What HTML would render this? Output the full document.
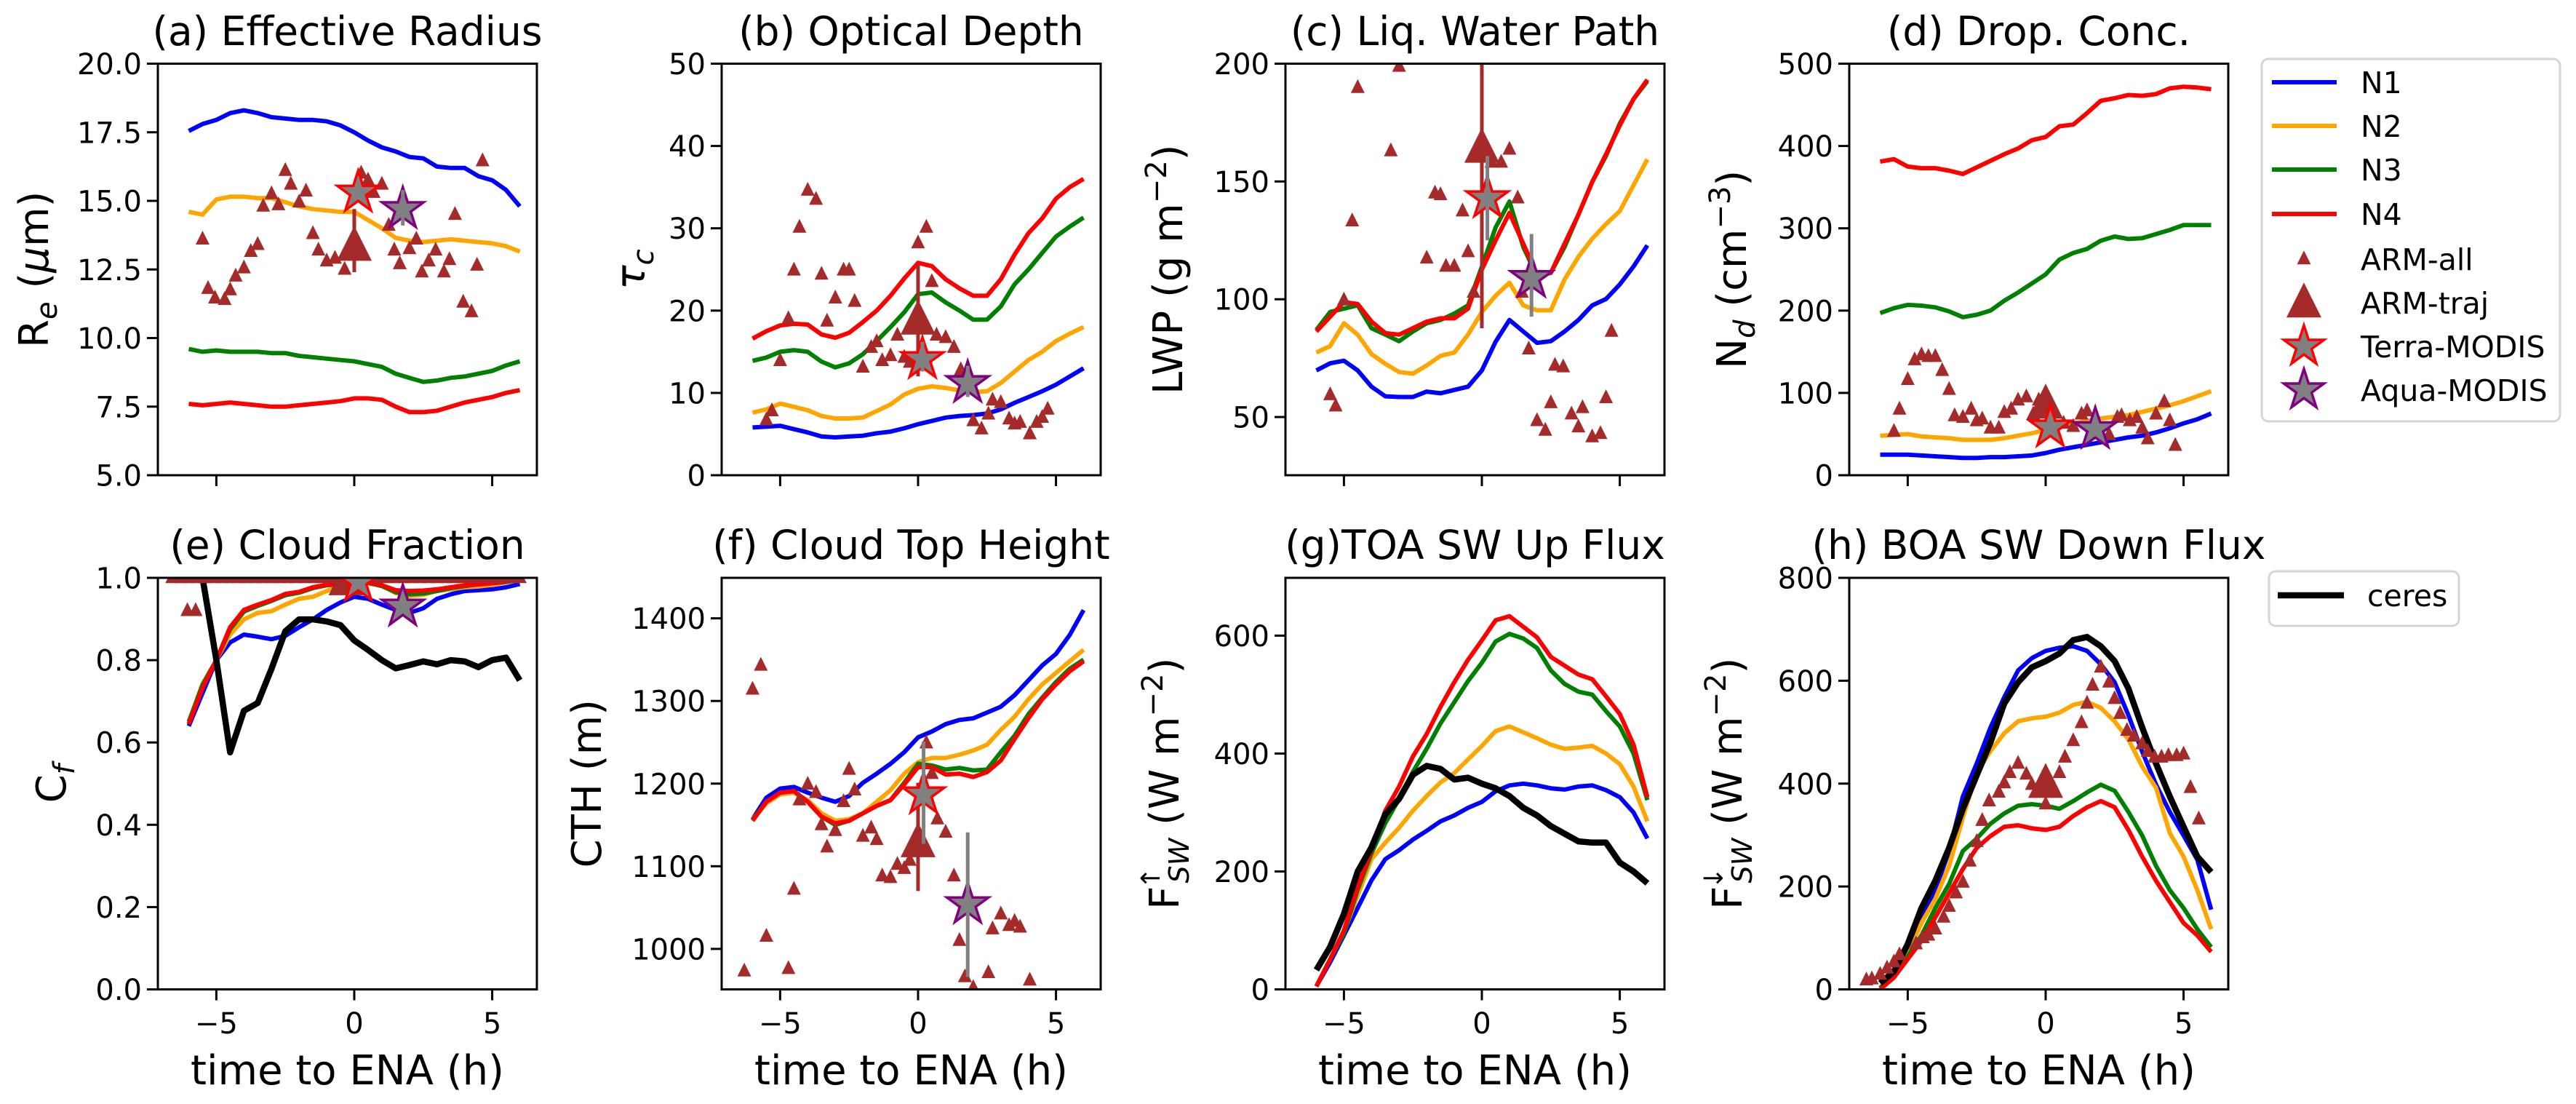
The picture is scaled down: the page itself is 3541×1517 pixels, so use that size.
<!DOCTYPE html>
<html><head><meta charset="utf-8"><title>Model vs observation time series</title>
<style>
html,body{margin:0;padding:0;background:#fff;}
svg{display:block;font-family:"DejaVu Sans","Liberation Sans",sans-serif;}
</style></head>
<body>
<svg id="fig" xmlns="http://www.w3.org/2000/svg" width="3541" height="1517" viewBox="0 0 3541 1517">
<rect x="0" y="0" width="3541" height="1517" fill="#fff"/>
</svg>
<script>
// ---------- shared time axis (h) ----------
const hours = [-6,-5.5,-5,-4.5,-4,-3.5,-3,-2.5,-2,-1.5,-1,-0.5,0,0.5,1,1.5,2,2.5,3,3.5,4,4.5,5,5.5,6];
const xTicks = [-5,0,5];
const xTickLabels = ['\u22125','0','5'];

// ---------- (a) effective radius ----------
const reN1 = [17.55,17.8,17.95,18.2,18.3,18.2,18.05,18.0,17.95,17.95,17.9,17.75,17.5,17.2,16.95,16.8,16.6,16.55,16.25,16.2,16.2,15.9,15.75,15.4,14.8];
const reN2 = [14.6,14.5,15.05,15.15,15.15,15.1,15.1,14.95,14.8,14.7,14.65,14.6,14.6,14.3,14.0,13.65,13.55,13.5,13.55,13.6,13.55,13.5,13.45,13.35,13.15];
const reN3 = [9.6,9.5,9.55,9.5,9.5,9.5,9.45,9.45,9.35,9.3,9.25,9.2,9.15,9.05,8.95,8.7,8.55,8.4,8.45,8.55,8.6,8.7,8.8,9.0,9.15];
const reN4 = [7.6,7.55,7.6,7.65,7.6,7.55,7.5,7.5,7.55,7.6,7.65,7.7,7.8,7.8,7.75,7.5,7.3,7.3,7.35,7.5,7.65,7.75,7.85,8.0,8.1];
const reArmT = [-5.5,-5.3,-5.05,-4.7,-4.5,-4.3,-4.0,-3.75,-3.5,-3.3,-3.0,-2.75,-2.5,-2.3,-2.0,-1.75,-1.5,-1.3,-1.0,-0.7,-0.35,0.25,0.5,0.7,1.0,1.25,1.45,1.65,2.0,2.25,2.45,2.7,2.95,3.25,3.45,3.65,3.95,4.25,4.45,4.65];
const reArmV = [13.6,11.8,11.45,11.4,11.75,12.25,12.55,13.15,13.4,14.8,15.25,14.85,16.1,15.6,14.95,15.35,13.8,13.2,12.8,12.9,12.5,16.0,15.75,15.3,15.6,14.1,13.2,12.7,13.25,13.6,12.4,12.8,13.2,12.4,12.85,14.5,11.3,10.95,12.65,16.45];
const reTraj = [0, 13.3, 12.4, 14.7];
const reTerra = [0.14, 15.3, 15.1, 15.5];
const reAqua = [1.76, 14.7, 14.1, 15.4];
const reTicks = [5,7.5,10,12.5,15,17.5,20];
const reTickLabels = ['5.0','7.5','10.0','12.5','15.0','17.5','20.0'];

// ---------- (b) optical depth ----------
const tauN1 = [5.8,5.9,6.0,5.6,5.2,4.7,4.6,4.7,4.8,5.1,5.3,5.7,6.2,6.6,7.0,7.2,7.3,7.5,8.0,8.8,9.5,10.2,11.0,12.0,13.0];
const tauN2 = [7.6,8.0,8.7,8.3,7.9,7.2,6.9,6.9,7.0,7.8,8.6,9.8,10.5,10.8,10.6,10.3,10.1,10.2,11.2,12.6,14.0,15.0,16.3,17.2,18.0];
const tauN3 = [13.9,14.3,15.0,15.2,15.0,13.8,13.1,13.6,14.7,16.3,18.0,19.8,22.0,22.2,21.0,20.0,18.9,18.9,20.5,23.2,25.0,27.0,29.0,30.2,31.3];
const tauN4 = [16.6,17.5,18.2,18.4,18.3,17.1,16.7,17.3,18.6,20.0,21.8,23.9,25.8,25.4,23.8,22.7,21.8,21.8,23.8,26.8,29.4,31.2,33.6,35.0,36.0];
const tauArmT = [-5.5,-5.3,-5.0,-4.7,-4.5,-4.3,-4.0,-3.7,-3.5,-3.3,-3.0,-2.7,-2.5,-2.3,-2.0,-1.7,-1.5,-1.3,-1.0,-0.75,-0.5,-0.3,0,0.3,0.5,0.67,1.0,1.3,1.55,2.0,2.3,2.55,2.7,3.0,3.3,3.5,3.7,4.05,4.3,4.5,4.7];
const tauArmV = [6.7,7.8,13.9,19.0,24.9,30.1,34.6,33.5,24.4,18.7,21.5,24.9,24.9,21.1,13.1,15.5,16.2,13.9,14.5,17.0,14.3,13.7,28.2,30.1,23.5,17.0,16.7,15.5,12.8,6.6,5.6,7.4,9.1,8.8,6.8,6.2,6.4,5.0,6.4,7.0,8.0];
const tauTraj = [0, 18.7, 12.0, 25.6];
const tauTerra = [0.16, 14.1, 12.6, 16.2];
const tauAqua = [1.8, 11.2, 9.5, 13.3];
const tauTicks = [0,10,20,30,40,50];
const tauTickLabels = ['0','10','20','30','40','50'];

// ---------- (c) liquid water path ----------
const lwpN1 = [69.8,72.8,73.9,69.8,62.9,58.8,58.5,58.5,60.8,60.1,61.5,62.9,69.8,82.0,91.2,86.3,81.5,82.2,86.3,91.2,97.4,100.1,106.3,113.9,122.9];
const lwpN2 = [77.4,80.1,89.8,85.0,76.7,72.6,69.1,68.4,71.9,76.0,77.4,85.0,94.6,101.5,107.0,97.4,95.3,95.3,108.4,118.0,125.7,131.9,137.4,148.4,159.4];
const lwpN3 = [87.0,94.6,96.0,97.4,87.7,85.0,82.2,86.3,89.8,91.2,93.9,97.4,113.9,130.5,141.5,122.2,109.8,111.2,122.2,135.9,149.8,160.8,174.6,185.0,192.6];
const lwpN4 = [86.3,92.6,98.8,98.0,90.5,85.6,85.0,87.7,90.5,91.9,91.9,96.0,112.6,125.0,136.7,123.6,110.5,111.2,123.6,135.9,149.8,161.5,173.8,185.0,193.2];
const lwpArmT = [-5.5,-5.3,-5.0,-4.7,-4.5,-3.3,-3.0,-2.0,-1.7,-1.5,-1.3,-1.0,-0.7,-0.5,-0.3,0.35,0.7,1.0,1.3,1.45,1.7,2.65,2.95,2.0,2.3,2.5,3.25,3.5,3.65,4.0,4.3,4.5,4.7];
const lwpArmV = [59.4,54.6,99.6,133.2,189.8,162.9,198.8,117.4,145.0,144.3,113.9,113.9,137.4,120.1,102.9,158.1,158.1,163.6,142.9,102.9,78.8,71.9,71.2,48.4,44.3,56.0,51.2,45.7,53.9,41.5,42.9,58.1,86.3];
const lwpTraj = [0, 163.6, 87.7, 215];
const lwpTerra = [0.2, 142.9, 125.0, 160.8];
const lwpAqua = [1.8, 109.0, 92.6, 127.7];
const lwpTicks = [50,100,150,200];
const lwpTickLabels = ['50','100','150','200'];

// ---------- (d) droplet concentration ----------
const ndN1 = [25,25,25,24,23,22,21,21,22,22,23,24,27,31,34,37,40,43,46,48,52,57,63,68,75];
const ndN2 = [48,49,50,47,46,45,43,43,43,45,48,51,55,60,63,66,69,71,73,77,81,85,90,96,102];
const ndN3 = [197,203,207,206,204,199,192,195,200,212,222,233,244,262,270,275,285,290,287,288,293,298,304,304,304];
const ndN4 = [381,384,375,373,373,370,366,374,382,390,397,407,411,424,426,440,455,458,462,461,463,470,472,471,469];
const ndArmT = [-5.5,-5.3,-5.0,-4.75,-4.5,-4.25,-4.0,-3.75,-3.5,-3.3,-3.0,-2.7,-2.5,-2.3,-2.0,-1.7,-1.5,-1.25,-1.0,-0.7,-0.45,-0.25,0.3,0.65,1.0,1.3,1.5,2.3,2.6,2.75,3.05,3.3,3.5,3.7,4.0,4.3,4.5,4.7];
const ndArmV = [53,80,116,140,146,144,144,127,104,72,70,80,66,68,57,57,76,80,91,95,74,91,76,63,59,74,78,49,70,72,66,70,57,44,74,89,66,36];
const ndTraj = [0, 85, 75, 100];
const ndTerra = [0.17, 58, 54, 62];
const ndAqua = [1.8, 56, 51, 61];
const ndTicks = [0,100,200,300,400,500];
const ndTickLabels = ['0','100','200','300','400','500'];

// ---------- (e) cloud fraction ----------
const cfN1 = [0.64,0.72,0.80,0.843,0.862,0.857,0.851,0.859,0.88,0.899,0.922,0.94,0.954,0.949,0.935,0.922,0.915,0.926,0.949,0.96,0.968,0.97,0.972,0.977,0.985];
const cfN2 = [0.65,0.742,0.80,0.862,0.899,0.915,0.919,0.935,0.949,0.954,0.968,0.982,0.986,0.986,0.982,0.963,0.956,0.959,0.968,0.972,0.977,0.979,0.983,0.989,0.995];
const cfN3 = [0.65,0.74,0.80,0.875,0.918,0.932,0.944,0.958,0.964,0.975,0.982,0.985,0.99,0.988,0.98,0.965,0.96,0.962,0.968,0.975,0.98,0.984,0.987,0.99,0.995];
const cfN4 = [0.645,0.733,0.80,0.88,0.922,0.935,0.946,0.961,0.966,0.977,0.983,0.986,0.991,0.989,0.982,0.97,0.968,0.969,0.972,0.977,0.982,0.984,0.987,0.991,0.995];
const cfCeres = [1.05,1.0,0.8,0.576,0.677,0.696,0.779,0.87,0.899,0.899,0.894,0.885,0.848,0.825,0.8,0.78,0.788,0.797,0.79,0.8,0.797,0.783,0.8,0.806,0.751];
const cfArmT = [-6.6,-6.3,-6.0,-5.7,-5.4,-5.1,-4.8,-4.5,-4.2,-3.9,-3.6,-3.3,-3.0,-2.7,-2.4,-2.1,-1.8,-1.5,-1.2,-0.9,-0.6,-0.3,0.3,0.6,0.9,1.2,1.5,1.8,2.1,2.4,2.7,3.0,3.3,3.6,3.9,4.2,4.5,4.8,5.1,5.4,5.7,6.0,-6.05,-5.75];
const cfArmV = [1,1,1,1,1,1,1,1,1,1,1,1,1,1,1,1,1,1,1,1,1,1,1,1,1,1,1,1,1,1,1,1,1,1,1,1,1,1,1,1,1,1,0.92,0.92];
const cfTraj = [-0.3, 0.99, 0.99, 0.99];
const cfTerra = [0.15, 0.99, 0.99, 0.99];
const cfAqua = [1.76, 0.93, 0.93, 0.93];
const cfTicks = [0,0.2,0.4,0.6,0.8,1.0];
const cfTickLabels = ['0.0','0.2','0.4','0.6','0.8','1.0'];

// ---------- (f) cloud top height ----------
const cthN1 = [1157,1183,1194,1196,1189,1183,1178,1185,1201,1212,1224,1238,1256,1263,1272,1277,1279,1286,1293,1307,1325,1343,1357,1380,1410];
const cthN2 = [1157,1176,1187,1189,1180,1164,1155,1157,1164,1178,1192,1212,1226,1231,1231,1235,1240,1247,1265,1281,1302,1320,1334,1348,1362];
const cthN3 = [1156,1178,1189,1191,1178,1160,1150,1155,1164,1173,1180,1201,1224,1222,1217,1219,1216,1217,1238,1258,1284,1304,1323,1339,1350];
const cthN4 = [1155,1178,1189,1191,1178,1160,1152,1155,1164,1173,1180,1199,1220,1220,1211,1212,1208,1214,1228,1254,1279,1302,1320,1336,1348];
const cthArmT = [-6.3,-6.0,-5.7,-5.5,-4.7,-4.5,-4.3,-4.0,-3.7,-3.5,-3.3,-3.0,-2.7,-2.5,-2.3,-2.0,-1.7,-1.5,-1.3,-1.0,-0.75,-0.5,-0.3,0.3,0.5,0.7,1.0,1.3,1.5,1.7,2.0,2.55,2.7,3.0,3.3,3.5,3.7,4.05];
const cthArmV = [973,1314,1343,1015,976,1072,1180,1199,1189,1150,1123,1143,1178,1217,1192,1136,1146,1132,1088,1086,1102,1097,1107,1249,1212,1157,1141,1088,1010,966,953,971,1024,1042,1028,1033,1026,962];
const cthTraj = [0, 1127, 1070, 1201];
const cthTerra = [0.2, 1187, 1127, 1251];
const cthAqua = [1.8, 1054, 966, 1141];
const cthTicks = [1000,1100,1200,1300,1400];
const cthTickLabels = ['1000','1100','1200','1300','1400'];

// ---------- (g) TOA SW up flux ----------
const toaN1 = [5,46,92,138,185,221,236,254,269,285,295,308,318,336,346,349,346,341,339,344,346,338,326,300,256];
const toaN2 = [5,51,97,159,221,249,274,303,328,351,367,390,413,438,446,436,426,415,408,410,413,400,382,344,285];
const toaN3 = [5,51,95,169,231,282,323,369,408,451,487,523,554,590,603,595,579,541,518,505,500,472,446,400,321];
const toaN4 = [5,51,100,174,236,303,344,395,433,479,521,559,592,626,633,615,597,564,549,534,526,497,467,415,326];
const toaCeres = [33,72,128,200,241,297,323,364,379,374,356,359,349,341,328,308,295,277,264,251,249,249,215,200,180];
const toaTicks = [0,200,400,600];
const toaTickLabels = ['0','200','400','600'];

// ---------- (h) BOA SW down flux ----------
const boaN1 = [3,29,76,140,193,269,375,439,509,568,620,644,658,664,667,658,632,597,533,462,398,345,299,252,155];
const boaN2 = [3,29,70,129,176,240,334,421,463,498,521,527,530,538,553,559,547,521,486,433,392,304,258,193,117];
const boaN3 = [3,26,64,105,158,205,269,293,322,342,357,360,357,351,366,383,398,386,345,299,240,193,158,117,82];
const boaN4 = [0,23,59,94,140,187,234,275,298,316,319,313,310,316,337,354,366,354,310,258,211,170,129,105,73];
const boaCeres = [12,35,88,158,211,275,351,416,480,556,597,626,638,653,679,685,667,638,585,509,439,375,316,258,228];
const boaArmT = [-6.5,-6.3,-6.0,-5.75,-5.5,-5.3,-4.7,-4.45,-4.25,-4.0,-3.7,-3.5,-3.25,-3.0,-2.75,-2.5,-2.3,-2.05,-1.7,-1.5,-1.3,-1.0,-0.7,-0.5,0,0.5,0.7,1.0,1.3,1.5,1.7,2.0,2.3,2.5,2.7,2.95,3.2,3.5,3.7,3.95,4.2,4.45,4.75,5.0,5.25,5.55];
const boaArmV = [18,20,29,41,53,67,88,100,105,117,140,161,187,208,249,287,328,366,383,401,421,439,418,398,360,421,451,483,518,556,591,626,597,565,536,503,492,477,462,451,451,454,454,457,392,331];
const boaTraj = [0, 398, 385, 412];
const boaTicks = [0,200,400,600,800];
const boaTickLabels = ['0','200','400','600','800'];

// ---------- layout ----------
const NS = 'http://www.w3.org/2000/svg';
const svg = document.getElementById('fig');
const colLeft = [217, 992, 1767, 2542];
const rowTop = [87.5, 794];
const AW = 521, AH = 565.5;
const XMIN = -7.12, XMAX = 6.62;
const COLORS = ['#0000ff', '#ffa500', '#008000', '#ff0000'];
const BROWN = '#a52a2a';

function el(tag, attrs, name, parent) {
  const e = document.createElementNS(NS, tag);
  for (const k in attrs) e.setAttribute(k, attrs[k]);
  
  
  (parent || svg).appendChild(e);
  return e;
}
function starPts(cx, cy, R) {
  const r = R * 0.382; const p = [];
  for (let i = 0; i < 10; i++) {
    const a = -Math.PI / 2 + i * Math.PI / 5; const rr = i % 2 ? r : R;
    p.push((cx + rr * Math.cos(a)).toFixed(1) + ',' + (cy + rr * Math.sin(a)).toFixed(1));
  }
  return p.join(' ');
}
function triPts(cx, cy, s) {
  return [cx + ',' + (cy - s * 0.62), (cx - s * 0.5) + ',' + (cy + s * 0.38), (cx + s * 0.5) + ',' + (cy + s * 0.38)].join(' ');
}

function panel(cfg) {
  const L = colLeft[cfg.col], T = rowTop[cfg.row];
  const sx = t => L + (t - XMIN) / (XMAX - XMIN) * AW;
  const sy = v => T + AH - (v - cfg.ymin) / (cfg.ymax - cfg.ymin) * AH;
  const g = el('g', {}, 'panel-' + cfg.id);
  const clipId = 'clip-' + cfg.id;
  const cp = el('clipPath', {id: clipId}, 'clip-region', g);
  el('rect', {x: L, y: T, width: AW, height: AH}, 'clip-rect', cp);
  const plot = el('g', {'clip-path': 'url(#' + clipId + ')'}, 'plot-area', g);
  const mkLine = (vals, color, w, name) => {
    const d = vals.map((v, i) => (i ? 'L' : 'M') + sx(hours[i]).toFixed(1) + ',' + sy(v).toFixed(1)).join(' ');
    el('path', {d: d, fill: 'none', stroke: color, 'stroke-width': w, 'stroke-linejoin': 'round'}, name, plot);
  };
  cfg.lines.forEach((vals, i) => mkLine(vals, COLORS[i], 6, 'line-n' + (i + 1)));
  if (cfg.ceres) mkLine(cfg.ceres, '#000', 8.5, 'line-ceres');
  if (cfg.armT) cfg.armT.forEach((t, i) => {
    el('polygon', {points: triPts(sx(t), sy(cfg.armV[i]), 19), fill: BROWN}, 'arm-all-point', plot);
  });
  if (cfg.traj) {
    const [t, v, lo, hi] = cfg.traj;
    el('line', {x1: sx(t), x2: sx(t), y1: sy(lo), y2: sy(hi), stroke: BROWN, 'stroke-width': 5}, 'arm-traj-errorbar', plot);
    el('polygon', {points: triPts(sx(t), sy(v), 48), fill: BROWN}, 'arm-traj-point', plot);
  }
  [[cfg.terra, '#ff0000', 'terra-modis'], [cfg.aqua, '#800080', 'aqua-modis']].forEach(([s, c, n]) => {
    if (!s) return;
    const [t, v, lo, hi] = s;
    el('polygon', {points: starPts(sx(t), sy(v), 30), fill: '#808080', stroke: c, 'stroke-width': 3.5}, n + '-star', plot);
    el('line', {x1: sx(t), x2: sx(t), y1: sy(lo), y2: sy(hi), stroke: '#808080', 'stroke-width': 5}, n + '-errorbar', plot);
  });
  el('rect', {x: L, y: T, width: AW, height: AH, fill: 'none', stroke: '#000', 'stroke-width': 3}, 'axes-frame', g);
  cfg.yt.forEach((v, i) => {
    const y = sy(v);
    el('line', {x1: L - 15, x2: L, y1: y, y2: y, stroke: '#000', 'stroke-width': 3}, 'y-tick', g);
    const tx = el('text', {x: L - 22, y: y + 14.5, 'text-anchor': 'end', 'font-size': 40}, 'y-tick-label', g);
    tx.textContent = cfg.ytl[i];
  });
  xTicks.forEach((t, i) => {
    const x = sx(t);
    el('line', {x1: x, x2: x, y1: T + AH, y2: T + AH + 15, stroke: '#000', 'stroke-width': 3}, 'x-tick', g);
    if (cfg.row === 1) {
      const tx = el('text', {x: x, y: 1420, 'text-anchor': 'middle', 'font-size': 40}, 'x-tick-label', g);
      tx.textContent = xTickLabels[i];
    }
  });
  if (cfg.row === 1) {
    const xl = el('text', {x: L + AW / 2, y: 1490, 'text-anchor': 'middle', 'font-size': 56}, 'x-axis-title', g);
    xl.textContent = 'time to ENA (h)';
  }
  const ti = el('text', {x: L + AW / 2 + (cfg.titleDx || 0), y: cfg.row ? 768 : 62, 'text-anchor': 'middle', 'font-size': 55}, 'panel-title', g);
  ti.textContent = cfg.title;
  const yc = T + AH / 2;
  const yl = el('text', {x: cfg.ylx, y: yc, 'text-anchor': 'middle', 'font-size': 56, transform: 'rotate(-90 ' + cfg.ylx + ' ' + yc + ')'}, 'y-axis-title', g);
  yl.innerHTML = cfg.ylabel;
}

const SUP = s => '<tspan dy="-22" font-size="40">' + s + '</tspan><tspan dy="22">)</tspan>';

panel({id: 'a', col: 0, row: 0, ymin: 5, ymax: 20, yt: reTicks, ytl: reTickLabels, lines: [reN1, reN2, reN3, reN4], armT: reArmT, armV: reArmV, traj: reTraj, terra: reTerra, aqua: reAqua, title: '(a) Effective Radius', ylx: 66,
  ylabel: 'R<tspan dy="12" font-size="40" font-style="italic">e</tspan><tspan dy="-12"> (</tspan><tspan font-style="italic">\u03bc</tspan>m)'});
panel({id: 'b', col: 1, row: 0, ymin: 0, ymax: 50, yt: tauTicks, ytl: tauTickLabels, lines: [tauN1, tauN2, tauN3, tauN4], armT: tauArmT, armV: tauArmV, traj: tauTraj, terra: tauTerra, aqua: tauAqua, title: '(b) Optical Depth', ylx: 886,
  ylabel: '<tspan font-style="italic">\u03c4</tspan><tspan dy="12" font-size="40" font-style="italic">c</tspan>'});
panel({id: 'c', col: 2, row: 0, ymin: 25.3, ymax: 200, yt: lwpTicks, ytl: lwpTickLabels, lines: [lwpN1, lwpN2, lwpN3, lwpN4], armT: lwpArmT, armV: lwpArmV, traj: lwpTraj, terra: lwpTerra, aqua: lwpAqua, title: '(c) Liq. Water Path', ylx: 1625,
  ylabel: 'LWP (g m' + SUP('\u22122')});
panel({id: 'd', col: 3, row: 0, ymin: 0, ymax: 500, yt: ndTicks, ytl: ndTickLabels, lines: [ndN1, ndN2, ndN3, ndN4], armT: ndArmT, armV: ndArmV, traj: ndTraj, terra: ndTerra, aqua: ndAqua, title: '(d) Drop. Conc.', ylx: 2400,
  ylabel: 'N<tspan dy="12" font-size="40" font-style="italic">d</tspan><tspan dy="-12"> (cm</tspan>' + SUP('\u22123')});
panel({id: 'e', col: 0, row: 1, ymin: 0, ymax: 1, yt: cfTicks, ytl: cfTickLabels, lines: [cfN1, cfN2, cfN3, cfN4], ceres: cfCeres, armT: cfArmT, armV: cfArmV, traj: cfTraj, terra: cfTerra, aqua: cfAqua, title: '(e) Cloud Fraction', ylx: 90,
  ylabel: 'C<tspan dy="12" font-size="40" font-style="italic">f</tspan>'});
panel({id: 'f', col: 1, row: 1, ymin: 951, ymax: 1449, yt: cthTicks, ytl: cthTickLabels, lines: [cthN1, cthN2, cthN3, cthN4], armT: cthArmT, armV: cthArmV, traj: cthTraj, terra: cthTerra, aqua: cthAqua, title: '(f) Cloud Top Height', ylx: 826,
  ylabel: 'CTH (m)'});
panel({id: 'g', col: 2, row: 1, ymin: 0, ymax: 698, yt: toaTicks, ytl: toaTickLabels, lines: [toaN1, toaN2, toaN3, toaN4], ceres: toaCeres, title: '(g)TOA SW Up Flux', ylx: 1620,
  ylabel: 'F<tspan dy="-26" dx="-4" font-size="36">\u2191</tspan><tspan dy="40" dx="-22" font-size="38" font-style="italic">SW</tspan><tspan dy="-14"> (W m</tspan>' + SUP('\u22122')});
panel({id: 'h', col: 3, row: 1, ymin: 0, ymax: 800, yt: boaTicks, ytl: boaTickLabels, lines: [boaN1, boaN2, boaN3, boaN4], ceres: boaCeres, armT: boaArmT, armV: boaArmV, traj: boaTraj, title: '(h) BOA SW Down Flux', ylx: 2394,
  ylabel: 'F<tspan dy="-26" dx="-4" font-size="36">\u2193</tspan><tspan dy="40" dx="-22" font-size="38" font-style="italic">SW</tspan><tspan dy="-14"> (W m</tspan>' + SUP('\u22122')});

// ---------- legends ----------
const leg = el('g', {}, 'legend');
el('rect', {x: 3109, y: 81, width: 410, height: 498, rx: 9, fill: '#fff', stroke: '#d5d5d5', 'stroke-width': 3}, 'legend-frame', leg);
const legLabels = ['N1', 'N2', 'N3', 'N4', 'ARM-all', 'ARM-traj', 'Terra-MODIS', 'Aqua-MODIS'];
const legY = [113, 173, 233, 294, 356, 416, 476, 536];
legLabels.forEach((lab, i) => {
  const y = legY[i];
  const eg = el('g', {}, 'legend-entry', leg);
  if (i < 4) el('line', {x1: 3123, x2: 3212, y1: y, y2: y, stroke: COLORS[i], 'stroke-width': 6}, 'legend-swatch', eg);
  else if (i === 4) el('polygon', {points: triPts(3167, y, 19), fill: BROWN}, 'legend-swatch', eg);
  else if (i === 5) el('polygon', {points: triPts(3167, y + 2, 48), fill: BROWN}, 'legend-swatch', eg);
  else el('polygon', {points: starPts(3167, y, 29), fill: '#808080', stroke: i === 6 ? '#ff0000' : '#800080', 'stroke-width': 3.5}, 'legend-swatch', eg);
  const tx = el('text', {x: 3245, y: y + 15, 'font-size': 41}, 'legend-label', eg);
  tx.textContent = lab;
});
const leg2 = el('g', {}, 'legend-ceres');
el('rect', {x: 3119, y: 785, width: 261, height: 75, rx: 9, fill: '#fff', stroke: '#d5d5d5', 'stroke-width': 3}, 'legend-frame', leg2);
el('line', {x1: 3131, x2: 3222, y1: 818, y2: 818, stroke: '#000', 'stroke-width': 8.5}, 'legend-swatch', leg2);
const ct = el('text', {x: 3254, y: 833, 'font-size': 41}, 'legend-label', leg2);
ct.textContent = 'ceres';
</script>
</body></html>
